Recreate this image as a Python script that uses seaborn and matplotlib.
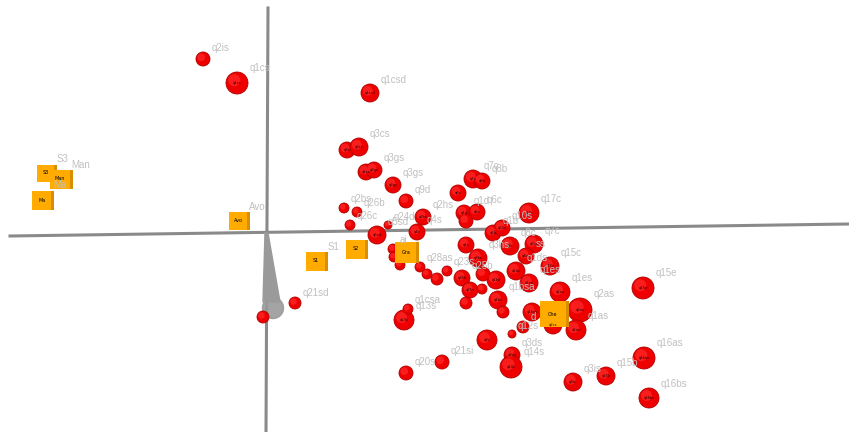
import numpy as np
import pandas as pd
import seaborn as sns
import matplotlib.pyplot as plt
from matplotlib.patches import Polygon, Circle

# projected coordinates (screen units) of the variables (spheres)
var_names = ['q2is', 'q1cs', 'q1csd', 'q3c', 'q3cs', 'q1es', 'q2gs', 'q3gs', 'q9d', 'q2bs',
             'q26b', 'q26c', 'q24d', 'q2hs', 'q4s', 'q5sd', 'q2i', 'q3i', 'q3c', 'q7c',
             'q8b', 'q6s', 'q1d', 'q6c', 'q1h', 'q17c', 'q1b', 'q10s', 'q1c', 'q8c',
             'q7cs', 'q4ss', 'q3hs', 'q15c', 'q1ds', 'q1es', 'q1bb', 'q1bs', 'q2b', 'q1as',
             'q2as', 'q1as', 'q1bsa', 'q12sd', 'q12s', 'q3s', 'q15e', 'q16as', 'q16bs', 'q15b',
             'q3is', 'q3ds', 'q14s', 'q21si', 'q20s', 'q13s', 'q1csa', 'q21sd', 'q21s', 'q28as',
             'q27s', 'q22s', 'q23s', 'q25b', 'q24s', 'q25s', 'q26s', 'q27b', 'q2cs']
var_x = [203, 237, 370, 347, 359, 366, 374, 393, 406, 344,
         357, 350, 388, 423, 417, 377, 393, 394, 400, 473,
         482, 458, 464, 477, 466, 529, 493, 502, 466, 510,
         534, 526, 478, 550, 516, 529, 496, 498, 503, 560,
         580, 576, 532, 523, 512, 487, 643, 644, 649, 606,
         573, 512, 511, 442, 406, 404, 408, 295, 263, 420,
         427, 437, 447, 462, 483, 470, 482, 466, 553]
var_y = [59, 83, 93, 150, 147, 172, 170, 185, 201, 208,
         212, 225, 225, 217, 232, 235, 249, 257, 265, 179,
         181, 193, 213, 212, 221, 213, 233, 228, 245, 246,
         244, 256, 258, 266, 271, 283, 280, 300, 312, 292,
         310, 330, 312, 327, 334, 340, 288, 358, 398, 376,
         382, 355, 367, 362, 373, 320, 309, 303, 317, 267,
         274, 279, 271, 278, 274, 290, 289, 303, 325]
var_r = [7, 11, 9, 8, 9, 8, 8, 8, 7, 5,
         5, 5, 4, 8, 8, 9, 5, 5, 5, 9,
         8, 8, 8, 8, 7, 10, 8, 8, 8, 9,
         9, 8, 9, 9, 9, 9, 9, 9, 6, 10,
         12, 10, 9, 6, 4, 10, 11, 11, 10, 9,
         9, 8, 11, 7, 7, 10, 5, 6, 6, 5,
         5, 6, 5, 8, 7, 8, 5, 6, 9]
# labels that are readable beside the spheres
var_labels = ['q2is', 'q1cs', 'q1csd', '', 'q3cs', '', 'q3gs', 'q3gs', 'q9d', 'q2bs',
              'q26b', 'q26c', 'q24d', 'q2hs', 'q4s', 'q5sd', 'ai', '', '', 'q7c',
              'q8b', '', 'q1d', 'q6c', '', 'q17c', 'q1b', 'q10s', '', 'q8c',
              'q7c', 'ss', 'q3hs', 'q15c', 'q1ds', 'q1es', '', 'q1bsa', '', 'q1es',
              'q2as', 'q1as', '', 'd', 'q12s', '', 'q15e', 'q16as', 'q16bs', 'q15b',
              'q3is', 'q3ds', 'q14s', 'q21si', 'q20s', 'q13s', 'q1csa', 'q21sd', '', 'q28as',
              '', '', 'q23s', 'q25b', '', '', '', '', '']

# projected coordinates of the individuals (cubes)
ind_names = ['S3', 'Man', 'Ma', 'Avo', 'S1', 'S2', 'Gra', 'Che']
ind_x = [46, 60, 42, 238, 316, 356, 406, 553]
ind_y = [173, 179, 200, 221, 261, 249, 252, 314]
ind_side = [17, 19, 19, 18, 19, 19, 21, 26]
ind_labels = ['S3', 'Man', 'Ma', 'Avo', 'S1', '', '', '']

# axis lines of the 3D frame
axis_h_x = [10, 849]
axis_h_y = [236, 224]
axis_v_x = [268, 266]
axis_v_y = [8, 432]

px = 0.72  # points per pixel at dpi 100
vars_df = pd.DataFrame({'x': var_x, 'y': var_y, 'r': var_r, 'name': var_names, 'label': var_labels})
inds_df = pd.DataFrame({'x': ind_x, 'y': ind_y, 'side': ind_side, 'name': ind_names, 'label': ind_labels})

fig = plt.figure(figsize=(8.49, 4.32), dpi=100)
ax = fig.add_axes([0, 0, 1, 1])
ax.set_xlim(0, 849)
ax.set_ylim(432, 0)
ax.axis('off')

ax.plot(axis_h_x, axis_h_y, color='#8a8a8a', lw=2.2, zorder=1)
ax.plot(axis_v_x, axis_v_y, color='#8a8a8a', lw=2.2, zorder=1)
ax.add_patch(Polygon([(265, 233), (268, 233), (280, 302), (263, 302)], closed=True,
                     color='#9a9a9a', zorder=1))
ax.add_patch(Circle((273, 308), 10.5, color='#9a9a9a', alpha=0.9, zorder=1))

# spheres: dark rim, red body, lighter highlight
sns.scatterplot(data=vars_df, x='x', y='y', s=(2 * vars_df['r'] * px) ** 2,
                color='#ee0000', edgecolor='#b00000', linewidth=0.6, ax=ax, zorder=3, legend=False)
sns.scatterplot(x=vars_df['x'] - 0.25 * vars_df['r'], y=vars_df['y'] - 0.25 * vars_df['r'],
                s=(1.1 * vars_df['r'] * px) ** 2, color='#ff2a2a', linewidth=0, alpha=0.7,
                ax=ax, zorder=3, legend=False)
for _, row in vars_df.iterrows():
    if row['r'] >= 8:
        ax.text(row['x'], row['y'], row['name'], fontsize=2.6, color='#300000',
                ha='center', va='center', zorder=4)
    if row['label']:
        ax.text(row['x'] + row['r'] + 2, row['y'] - row['r'] - 1, row['label'],
                fontsize=7, color='#c0c0c0', family='Liberation Sans', zorder=5)

# cubes: darker side face then front face
sns.scatterplot(x=inds_df['x'] + 3, y=inds_df['y'], s=(inds_df['side'] * px) ** 2, marker='s',
                color='#d98e00', linewidth=0, ax=ax, zorder=3, legend=False)
sns.scatterplot(data=inds_df, x='x', y='y', s=(inds_df['side'] * px) ** 2, marker='s',
                color='#ffab00', linewidth=0, ax=ax, zorder=3, legend=False)
for _, row in inds_df.iterrows():
    ax.text(row['x'], row['y'], row['name'], fontsize=3.5, color='black',
            ha='center', va='center', zorder=4)
    if row['label']:
        ax.text(row['x'] + row['side'] / 2 + 2, row['y'] - row['side'] / 2 - 2, row['label'],
                fontsize=7, color='#c0c0c0', family='Liberation Sans', zorder=5)

ax.set_xlabel('')
ax.set_ylabel('')
fig.savefig('out.png', dpi=100)
